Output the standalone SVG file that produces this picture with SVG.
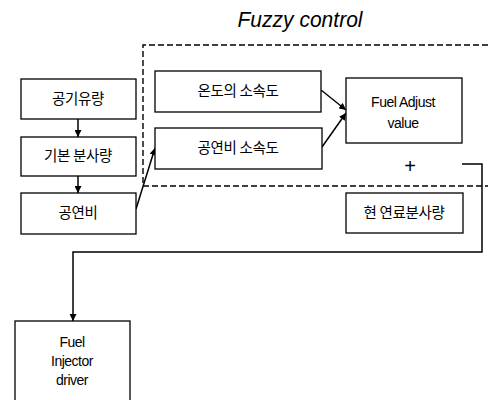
<svg xmlns="http://www.w3.org/2000/svg" width="488" height="400" viewBox="0 0 488 400">
<style>
.box{fill:#fff;stroke:#000;stroke-width:1.3}
.t{font-family:"Liberation Sans","Noto Sans CJK KR",sans-serif;font-size:14px;fill:#000;text-anchor:middle;letter-spacing:-0.5px}
.k{font-family:"Noto Sans CJK KR","Liberation Sans",sans-serif;font-size:14.5px;fill:#000;text-anchor:middle;letter-spacing:-0.3px}
.plus{font-family:"Liberation Sans",sans-serif;font-size:20px;fill:#000;text-anchor:middle}
.c{fill:none;stroke:#000;stroke-width:1.5}
.dash{fill:none;stroke:#000;stroke-width:1.4;stroke-dasharray:6 3}
</style>
<defs>
<marker id="ah" viewBox="0 0 10 10" refX="10" refY="5" markerWidth="7" markerHeight="7" markerUnits="userSpaceOnUse" orient="auto">
<path d="M0,0 L10,5 L0,10 z" fill="#000"/>
</marker>
</defs>
<rect width="488" height="400" fill="#fff"/>
<text x="300" y="27" font-family="Liberation Sans, sans-serif" font-style="italic" font-size="22" textLength="125" lengthAdjust="spacingAndGlyphs" text-anchor="middle">Fuzzy control</text>
<g id="fuzzy-region">
<path class="dash" d="M488,45 H143 V186 H488"/>
</g>
<g id="connectors">
<line class="c" x1="78" y1="119" x2="78" y2="137" marker-end="url(#ah)"/>
<line class="c" x1="78" y1="176" x2="78" y2="193" marker-end="url(#ah)"/>
<line class="c" x1="136" y1="209" x2="155" y2="148" marker-end="url(#ah)"/>
<line class="c" x1="321" y1="90" x2="346" y2="110" marker-end="url(#ah)"/>
<line class="c" x1="322" y1="147" x2="346" y2="113" marker-end="url(#ah)"/>
<path class="c" d="M462,164 H482 V252 H73 V321" stroke-width="1.8" marker-end="url(#ah)"/>
</g>
<g id="n-airflow"><rect class="box" x="21" y="79" width="115" height="40"/><text class="k" x="78" y="104">공기유량</text></g>
<g id="n-base"><rect class="box" x="21" y="137" width="115" height="39"/><text class="k" x="78" y="161">기본 분사량</text></g>
<g id="n-afr"><rect class="box" x="21" y="193" width="115" height="41"/><text class="k" x="78" y="218">공연비</text></g>
<g id="n-temp"><rect class="box" x="155" y="71" width="166" height="41"/><text class="k" x="238" y="96">온도의 소속도</text></g>
<g id="n-afrm"><rect class="box" x="155" y="128" width="167" height="41"/><text class="k" x="238" y="153">공연비 소속도</text></g>
<g id="n-adjust"><rect class="box" x="346" y="78" width="116" height="65"/><text class="t" x="403" y="107">Fuel Adjust</text><text class="t" x="403" y="128">value</text></g>
<g id="n-plus"><text class="plus" x="410" y="173">+</text></g>
<g id="n-current"><rect class="box" x="346" y="193" width="117" height="40"/><text class="k" x="404" y="218">현 연료분사량</text></g>
<g id="n-injector"><rect class="box" x="15" y="321" width="115" height="90"/><text class="t" x="72" y="347">Fuel</text><text class="t" x="72" y="366">Injector</text><text class="t" x="72" y="385">driver</text></g>
</svg>
